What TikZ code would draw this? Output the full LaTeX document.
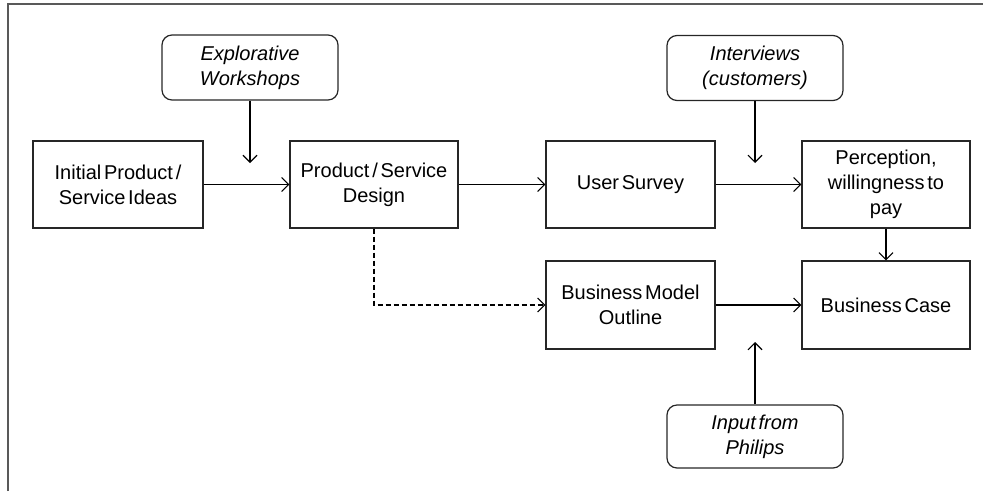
\documentclass[tikz,border=0pt]{standalone}
\usepackage{fontspec}
\setmainfont{Liberation Sans}[WordSpace=0.5]
\usetikzlibrary{arrows.meta}
\begin{document}
\begin{tikzpicture}[x=1pt,y=-1pt,
  txt/.style={font=\fontsize{20}{25}\selectfont},
  box/.style={txt, draw=black!85, line width=1.2pt, minimum width=168pt, minimum height=87pt, align=center, inner sep=2pt},
  inbox/.style={txt, draw=black!85, rounded corners=10pt, line width=1.2pt, minimum width=176pt, minimum height=65pt, align=center, inner sep=2pt, font=\fontsize{20}{25}\selectfont\itshape},
  arr/.style={line width=1.1pt, -{Straight Barb[length=7pt,width=14pt]}},
  frame/.style={draw=black!65, line width=2pt},
]
\useasboundingbox (0,0) rectangle (983,491);
\draw[frame] (8,491) -- (8,4) -- (983,4);

\node[box, minimum width=170pt] (init) at (118,184.5) {Initial Product /\\Service Ideas};
\node[box] (design) at (374,184.5) {Product / Service\\Design};
\node[box, minimum width=169pt] (us) at (630.5,184.5) {User Survey};
\node[box] (perc) at (886,184.5) {Perception,\\willingness to\\pay};
\node[box, minimum width=169pt, minimum height=88pt] (bmo) at (630.5,305) {Business Model\\Outline};
\node[box, minimum height=88pt] (bc) at (886,305) {Business Case};

\node[inbox] (expl) at (250,67.5) {Explorative\\Workshops};
\node[inbox] (intv) at (755,68) {Interviews\\(customers)};
\node[inbox, minimum height=63pt] (phil) at (755,436.5) {Input from\\Philips};

\coordinate (e1) at (250,163);
\coordinate (e2) at (755,163);
\coordinate (e3) at (755,342);

\draw[arr] (init.east) -- (design.west);
\draw[arr] (design.east) -- (us.west);
\draw[arr] (us.east) -- (perc.west);
\draw[arr] (perc.south) -- (bc.north);
\draw[arr] (bmo.east) -- (bc.west);
\draw[arr] (expl.south) -- (e1);
\draw[arr] (intv.south) -- (e2);
\draw[arr] (phil.north) -- (e3);
\draw[arr, dashed, dash pattern=on 5pt off 3pt] (design.south) |- (bmo.west);
\end{tikzpicture}
\end{document}
